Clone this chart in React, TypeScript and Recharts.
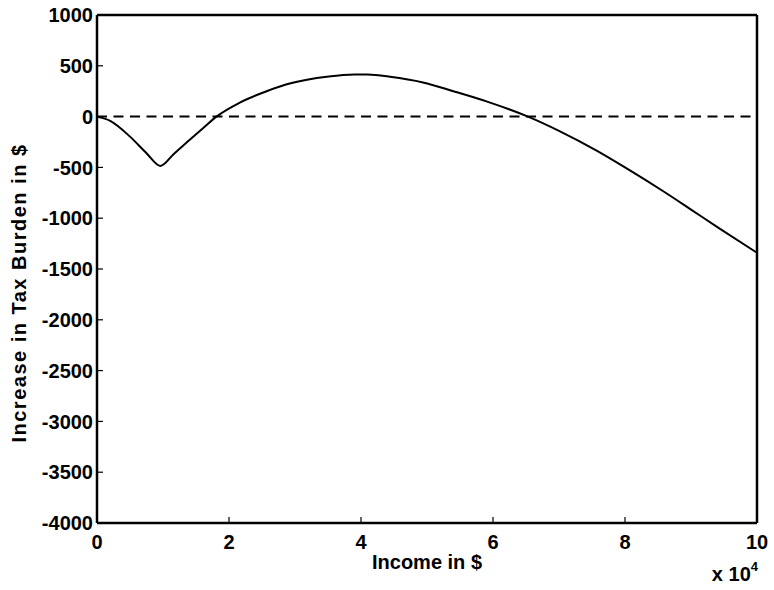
import React from 'react';
import {
  Label,
  Line,
  LineChart,
  ReferenceLine,
  XAxis,
  YAxis,
} from 'recharts';

// income in units of 10^4 $
const incomeE4 = [
  0, 0.2, 0.5, 0.75, 0.96, 1.16, 1.41, 1.61, 1.81, 2.17, 2.57, 2.95, 3.33, 3.7,
  3.9, 4.1, 4.44, 4.94, 5.4, 5.9, 6.53, 7.0, 7.57, 8.0, 8.58, 9.0, 9.44, 10,
];
const taxIncrease = [
  0, -42, -197, -360, -485, -370, -225, -112, 0, 140, 250, 330, 380, 408, 415,
  414, 392, 336, 250, 150, 0, -140, -335, -500, -735, -915, -1105, -1340,
];
const xTicks = [0, 2, 4, 6, 8, 10];
const yTicks = [-4000, -3500, -3000, -2500, -2000, -1500, -1000, -500, 0, 500, 1000];

const data = incomeE4.map((x, i) => ({ x, y: taxIncrease[i] }));

const FONT = '"Liberation Sans", Arial, sans-serif';
const tickStyle = { fontSize: 20, fontWeight: 700, fill: '#000', fontFamily: FONT };
const labelStyle = { fontSize: 20, fontWeight: 700, fontFamily: FONT, fill: '#000' };
const axisLine = { stroke: '#000', strokeWidth: 2.5 };
const tickLine = { stroke: '#000', strokeWidth: 1.2 };

const ScaleNote = (props: any) => {
  const vb = props.viewBox;
  if (!vb) return null;
  return (
    <text
      x={vb.x + vb.width + 1}
      y={vb.y + vb.height + 28}
      textAnchor="end"
      style={labelStyle}
    >
      x 10
      <tspan dy={-10} style={{ fontSize: 13 }}>
        4
      </tspan>
    </text>
  );
};

// MATLAB puts the y label a bit below the axis centre
const YTitle = (props: any) => {
  const vb = props.viewBox;
  if (!vb) return null;
  const cx = vb.x + 26;
  const cy = vb.y + vb.height / 2 + 24;
  return (
    <text
      x={cx}
      y={cy}
      textAnchor="middle"
      transform={`rotate(-90, ${cx}, ${cy})`}
      style={{ ...labelStyle, letterSpacing: 1.5 }}
    >
      Increase in Tax Burden in $
    </text>
  );
};

const App = () => {
  return (
    <div style={{ position: 'absolute', left: 0, top: 0, background: '#fff' }}>
      <LineChart
        width={774}
        height={590}
        data={data}
        margin={{ top: 0, right: 0, bottom: 37, left: 0 }}
      >
        <XAxis
          xAxisId="top"
          orientation="top"
          type="number"
          dataKey="x"
          domain={[0, 10]}
          ticks={xTicks}
          height={15}
          tick={false}
          tickSize={-6}
          axisLine={axisLine}
          tickLine={tickLine}
        />
        <YAxis
          yAxisId="right"
          orientation="right"
          type="number"
          domain={[-4000, 1000]}
          ticks={yTicks}
          width={17}
          tick={false}
          tickSize={-6}
          axisLine={axisLine}
          tickLine={tickLine}
        />
        <XAxis
          type="number"
          dataKey="x"
          domain={[0, 10]}
          ticks={xTicks}
          height={30}
          tick={tickStyle}
          tickSize={-6}
          tickMargin={18}
          axisLine={axisLine}
          tickLine={tickLine}
        >
          <Label value="Income in $" position="bottom" offset={2} style={labelStyle} />
          <Label content={ScaleNote} />
        </XAxis>
        <YAxis
          type="number"
          domain={[-4000, 1000]}
          ticks={yTicks}
          width={97}
          tick={tickStyle}
          tickSize={-6}
          tickMargin={10}
          axisLine={axisLine}
          tickLine={tickLine}
        >
          <Label content={YTitle} />
        </YAxis>
        <ReferenceLine
          y={0}
          stroke="#000"
          strokeWidth={2}
          strokeDasharray="10 6.5"
        />
        <Line
          type="monotone"
          dataKey="y"
          stroke="#000"
          strokeWidth={2}
          dot={false}
          isAnimationActive={false}
        />
      </LineChart>
    </div>
  );
};

export default App;
